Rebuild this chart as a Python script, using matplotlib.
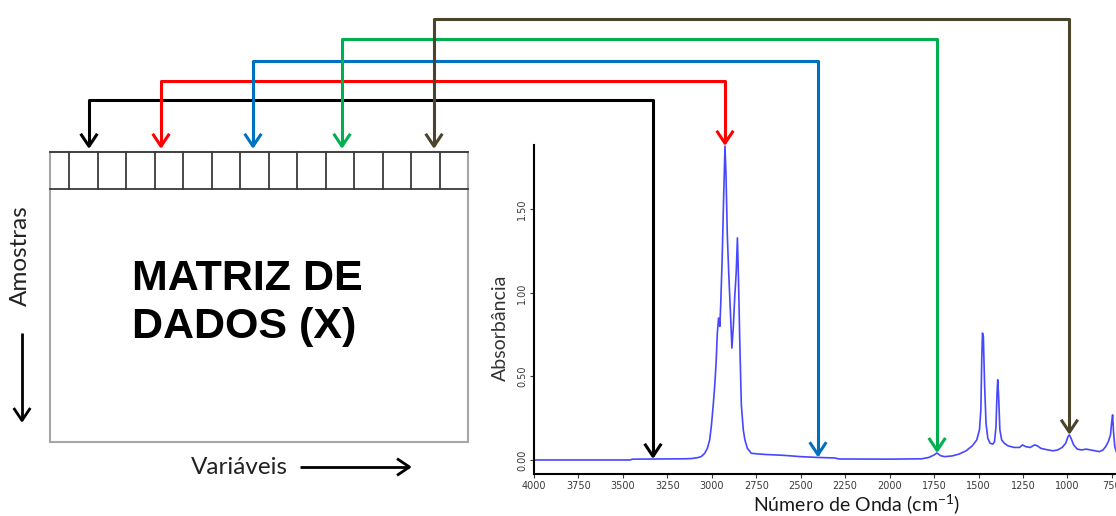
import numpy as np
import matplotlib.pyplot as plt
from matplotlib.patches import FancyArrowPatch, Rectangle
from matplotlib.path import Path

plt.rcParams['mathtext.fontset'] = 'custom'
plt.rcParams['mathtext.rm'] = 'Lato'

# FTIR spectrum: wavenumber (cm-1) and absorbance
wavenumber = [4000, 3460, 3445, 3300, 3150, 3110, 3080, 3060, 3040, 3025,
              3012, 3002, 2992, 2984, 2976, 2969, 2962, 2958, 2955, 2950,
              2942, 2934, 2926, 2920, 2913, 2905, 2896, 2887, 2879, 2871,
              2863, 2856, 2850, 2843, 2834, 2823, 2814, 2800, 2778, 2740,
              2700, 2600, 2500, 2400, 2310, 2285, 2000, 1820, 1780, 1750,
              1735, 1725, 1712, 1690, 1650, 1610, 1570, 1535, 1510, 1495,
              1487, 1482, 1478, 1473, 1466, 1458, 1448, 1435, 1420, 1410,
              1402, 1396, 1392, 1387, 1380, 1370, 1355, 1335, 1300, 1270,
              1252, 1235, 1210, 1185, 1170, 1150, 1110, 1080, 1055, 1030,
              1010, 997, 989, 980, 965, 945, 920, 895, 870, 845,
              820, 800, 785, 770, 758, 752, 746, 741, 734, 725]
absorbance = [0.000, 0.000, 0.005, 0.006, 0.007, 0.009, 0.014, 0.020, 0.040, 0.070,
              0.120, 0.210, 0.330, 0.440, 0.580, 0.760, 0.850, 0.830, 0.800, 0.930,
              1.200, 1.550, 1.880, 1.700, 1.350, 1.120, 0.900, 0.670, 0.800, 0.980,
              1.120, 1.330, 1.080, 0.720, 0.330, 0.180, 0.120, 0.070, 0.040, 0.036,
              0.033, 0.028, 0.020, 0.015, 0.012, 0.006, 0.005, 0.007, 0.015, 0.030,
              0.042, 0.035, 0.025, 0.020, 0.024, 0.035, 0.055, 0.085, 0.120, 0.180,
              0.300, 0.600, 0.760, 0.740, 0.450, 0.220, 0.130, 0.100, 0.095, 0.110,
              0.200, 0.400, 0.480, 0.380, 0.180, 0.120, 0.100, 0.085, 0.075, 0.075,
              0.090, 0.080, 0.075, 0.090, 0.085, 0.070, 0.060, 0.055, 0.060, 0.075,
              0.100, 0.140, 0.150, 0.130, 0.090, 0.065, 0.060, 0.065, 0.060, 0.055,
              0.050, 0.060, 0.080, 0.110, 0.150, 0.220, 0.270, 0.170, 0.080, 0.050]

# variables picked from the spectrum, each linked to a column of X
picked_wn = [3331, 2926, 2403, 1733, 989]
picked_colors = ['#000000', '#ff0000', '#0070c0', '#00b050', '#4a452a']

x_ticks = [4000, 3750, 3500, 3250, 3000, 2750, 2500, 2250, 2000, 1750, 1500, 1250, 1000, 750]
y_ticks = [0.0, 0.5, 1.0, 1.5]

W, H = 1116, 516
fig = plt.figure(figsize=(W / 100, H / 100), dpi=100)

# spectrum panel
ax = fig.add_axes([534 / W, (H - 474) / H, (W - 534) / W, (474 - 145) / H])
ax.patch.set_alpha(0)
ax.plot(wavenumber, absorbance, color='#4747ff', lw=1.2)
ax.set_xlim(4000, 727)
ax.set_ylim(-0.084, 1.886)
for s in ['top', 'right']:
    ax.spines[s].set_visible(False)
for s in ['left', 'bottom']:
    ax.spines[s].set_linewidth(1.5)
    ax.spines[s].set_color('black')
ax.set_xticks(x_ticks)
ax.set_xticklabels([str(t) for t in x_ticks])
ax.set_yticks(y_ticks)
ax.set_yticklabels([f'{t:.2f}' for t in y_ticks], rotation=90, va='center')
ax.tick_params(length=3, width=0.8, colors='#3a3a3a', labelsize=7, pad=2)

# overlay in pixel coordinates for the diagram
ov = fig.add_axes([0, 0, 1, 1])
ov.set_xlim(0, W)
ov.set_ylim(H, 0)
ov.axis('off')


def arrow(verts, color, style='->', lw=2.2):
    p = FancyArrowPatch(path=Path(verts), arrowstyle=style + ',head_length=9,head_width=6',
                        mutation_scale=1, lw=lw, color=color,
                        joinstyle='round', capstyle='butt')
    ov.add_patch(p)


# data matrix X
ov.add_patch(Rectangle((50, 152), 418, 290, fill=False, ec='#a6a6a6', lw=1.5))
ov.plot([50, 468], [152, 152], color='#3a3a3a', lw=1.3)
ov.plot([50, 468], [189, 189], color='#3a3a3a', lw=1.3)
for k in range(14):
    xd = 69 + 28.5 * k
    ov.plot([xd, xd], [152, 189], color='#3a3a3a', lw=1.3)

ov.text(132, 290, 'MATRIZ DE', fontsize=31, fontweight='bold',
        family='Liberation Sans', va='baseline', ha='left')
ov.text(132, 338, 'DADOS (X)', fontsize=31, fontweight='bold',
        family='Liberation Sans', va='baseline', ha='left')

ov.text(20, 256, 'Amostras', rotation=90, ha='center', va='center',
        fontsize=17.5, family='Lato', color='#222222')
arrow([(22, 333), (22, 423)], 'black', lw=2)
ov.text(239, 467, 'Variáveis', ha='center', va='center',
        fontsize=17.5, family='Lato', color='#222222')
arrow([(300, 467), (412, 467)], 'black', lw=2)

ov.text(500, 328, 'Absorbância', rotation=90, ha='center', va='center',
        fontsize=14, family='Lato', color='#333333')
ov.text(857, 505, 'Número de Onda (cm$^{-1}$)', ha='center', va='center',
        fontsize=14, family='Lato', color='#1a1a1a')

# connectors from spectrum variables to matrix columns
col_x = [89, 161, 253, 342, 434]
bar_y = [100, 81, 61, 39, 19]
for wn, c, xm, yh in zip(picked_wn, picked_colors, col_x, bar_y):
    a = np.interp(wn, wavenumber[::-1], absorbance[::-1])
    xs, ys = ax.transData.transform((wn, a))
    ys = H - ys
    arrow([(xm, 149), (xm, yh), (xs, yh), (xs, ys)], c, style='<->')

fig.savefig('out.png', dpi=100)
